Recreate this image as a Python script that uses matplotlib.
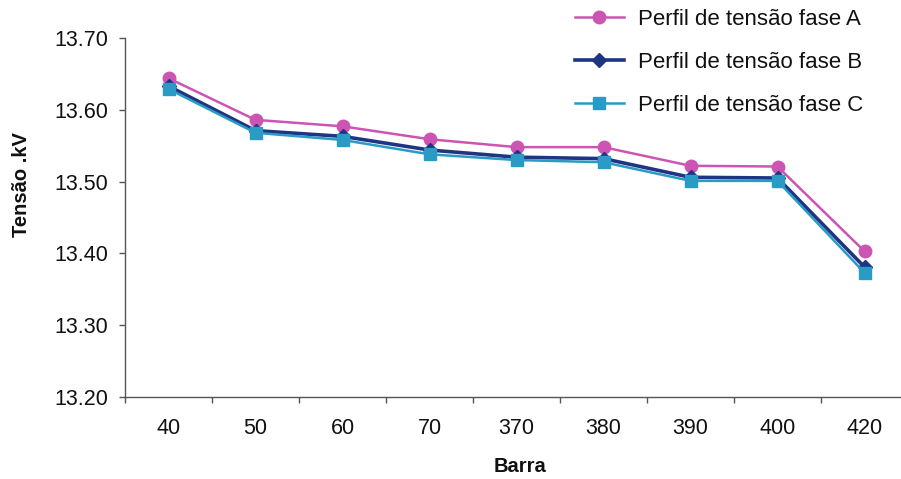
import matplotlib
matplotlib.use("Agg")
import matplotlib.pyplot as plt
import numpy as np

plt.rcParams['font.family'] = ['Liberation Sans', 'DejaVu Sans']

barras = ["40", "50", "60", "70", "370", "380", "390", "400", "420"]
fase_a = [13.644, 13.586, 13.577, 13.559, 13.548, 13.548, 13.522, 13.521, 13.403]
fase_b = [13.633, 13.571, 13.563, 13.544, 13.534, 13.532, 13.506, 13.505, 13.381]
fase_c = [13.629, 13.568, 13.558, 13.538, 13.530, 13.527, 13.501, 13.501, 13.373]
labels = ["Perfil de tensão fase A", "Perfil de tensão fase B", "Perfil de tensão fase C"]
yticks = [13.20, 13.30, 13.40, 13.50, 13.60, 13.70]

W, H = 901, 479
fig = plt.figure(figsize=(W / 100, H / 100), dpi=100)
ax = fig.add_axes([125 / W, (H - 397) / H, 783 / W, 359 / H])

x = np.arange(len(barras))
ax.plot(x, fase_a, color='#CC55B4', lw=1.8, marker='o', ms=9,
        mfc='#CC55B4', mec='#CC55B4', label=labels[0], zorder=3)
ax.plot(x, fase_b, color='#1F3584', lw=2.6, marker='D', ms=7.5,
        mfc='#1F3584', mec='#1F3584', label=labels[1], zorder=4)
ax.plot(x, fase_c, color='#2A9BC4', lw=1.8, marker='s', ms=8,
        mfc='#2A9BC4', mec='#2A9BC4', label=labels[2], zorder=5)

ax.set_xlim(-0.5, len(barras) - 0.5)
ax.set_ylim(yticks[0], yticks[-1])
ax.set_yticks(yticks)
ax.set_yticklabels([f"{v:.2f}" for v in yticks])
ax.set_xticks(x)
ax.set_xticklabels(barras)
ax.set_xticks(np.arange(len(barras) + 1) - 0.5, minor=True)

for s in ['top', 'right']:
    ax.spines[s].set_visible(False)
for s in ['left', 'bottom']:
    ax.spines[s].set_color('#555555')
    ax.spines[s].set_linewidth(1.0)

ax.tick_params(axis='y', which='major', length=4, width=1, color='#555555',
               labelsize=15.5, pad=8, labelcolor='#111111')
ax.tick_params(axis='x', which='major', length=0, labelsize=15.5, pad=15,
               labelcolor='#111111')
ax.tick_params(axis='x', which='minor', length=4, width=1, color='#555555',
               direction='out')

fig.text(22 / W, 1 - 185 / H, "Tensão .kV", rotation=90, ha='center', va='center',
         fontsize=14.5, fontweight='bold', color='#111111')
fig.text(520 / W, 1 - 467 / H, "Barra", ha='center', va='center',
         fontsize=14.5, fontweight='bold', color='#111111')

fig.legend(loc='upper left', bbox_to_anchor=(575 / W, 1 - 9 / H),
           frameon=False, fontsize=16, handlelength=2.2, handletextpad=0.65,
           labelspacing=0.98, borderpad=0, borderaxespad=0, labelcolor='#111111')

fig.savefig("out.png", dpi=100, facecolor='white')
